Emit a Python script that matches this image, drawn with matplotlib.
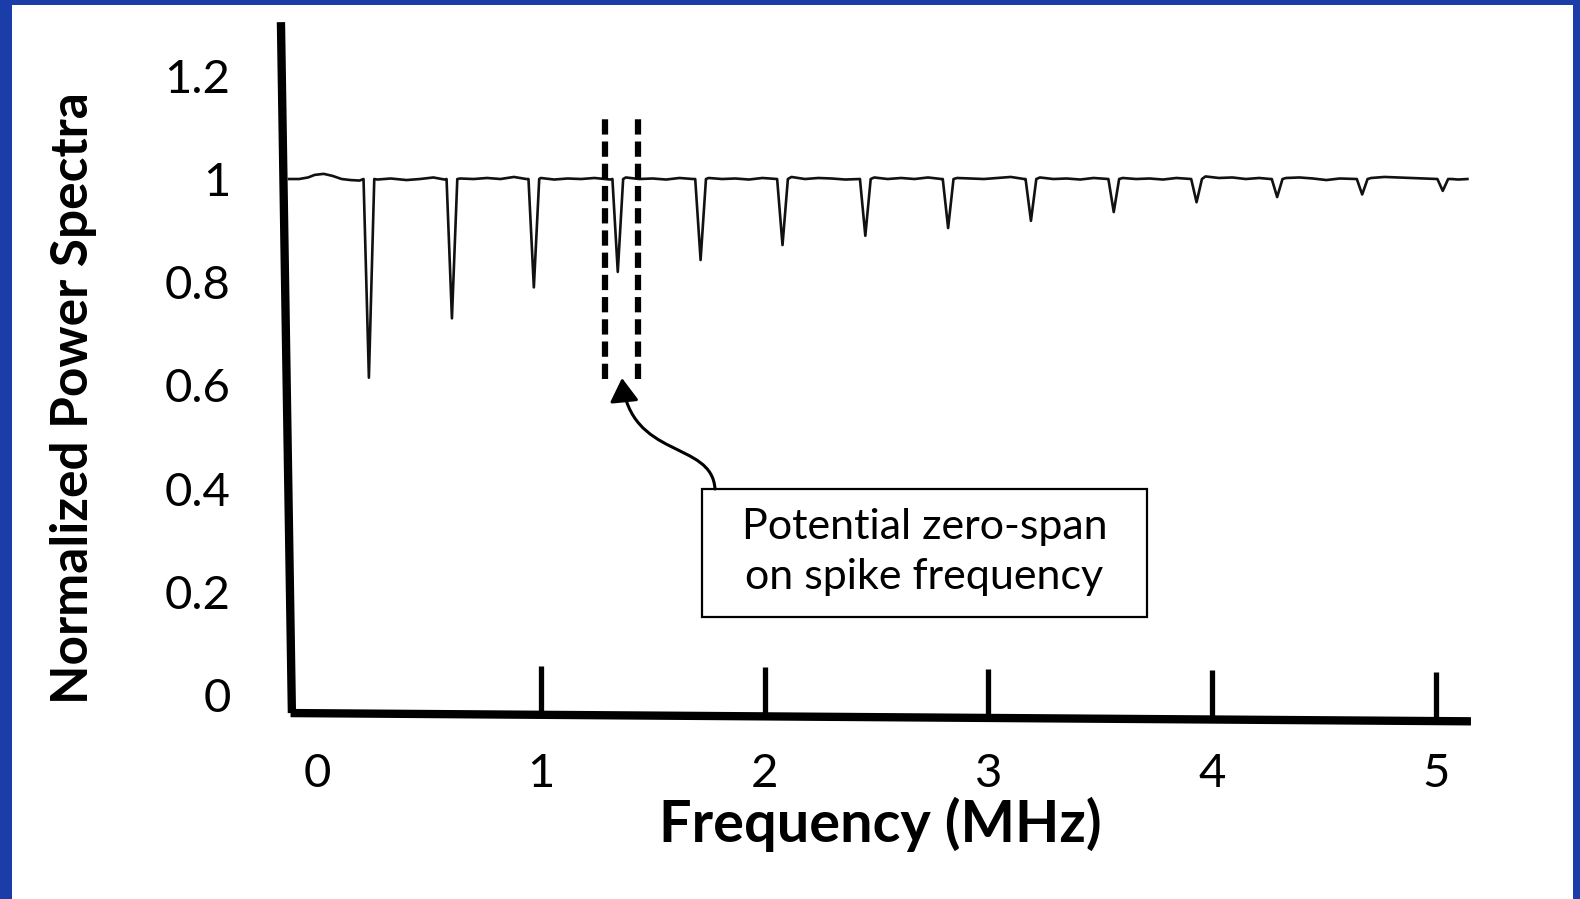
import matplotlib
matplotlib.use("Agg")
import matplotlib.pyplot as plt
from matplotlib.patches import Rectangle, FancyArrowPatch
from matplotlib.path import Path
import numpy as np

plt.rcParams['font.family'] = ['Lato', 'DejaVu Sans']
plt.rcParams['lines.scale_dashes'] = False

# ---- data ----
dip_freq = [0.232, 0.603, 0.969, 1.344, 1.714, 2.080, 2.450, 2.820,
            3.190, 3.560, 3.930, 4.290, 4.670, 5.030]
dip_min = [0.615, 0.73, 0.79, 0.82, 0.843, 0.872, 0.89, 0.905,
           0.919, 0.936, 0.955, 0.965, 0.97, 0.977]

base_freq = [-0.125, -0.08, -0.04, -0.01, 0.03, 0.07, 0.11, 0.15, 0.19,
             0.27, 0.33, 0.40, 0.46, 0.52, 0.57,
             0.64, 0.70, 0.76, 0.82, 0.88, 0.935,
             1.00, 1.06, 1.12, 1.18, 1.24, 1.31,
             1.38, 1.44, 1.50, 1.56, 1.62, 1.68,
             1.75, 1.81, 1.87, 1.93, 1.99, 2.05,
             2.12, 2.18, 2.24, 2.30, 2.36, 2.42,
             2.49, 2.55, 2.61, 2.67, 2.73, 2.79,
             2.86, 2.92, 2.98, 3.04, 3.10, 3.16,
             3.23, 3.29, 3.35, 3.41, 3.47, 3.53,
             3.60, 3.66, 3.72, 3.78, 3.84, 3.90,
             3.97, 4.03, 4.09, 4.15, 4.21, 4.26,
             4.33, 4.39, 4.45, 4.51, 4.57, 4.64,
             4.71, 4.77, 4.83, 4.89, 4.95, 5.00,
             5.07, 5.10, 5.14]
base_val = [1.0, 1.0, 1.003, 1.008, 1.01, 1.006, 1.0, 0.998, 0.997,
            0.999, 1.001, 0.998, 1.0, 1.003, 0.999,
            1.001, 1.0, 1.002, 1.0, 1.004, 1.0,
            1.002, 0.999, 1.001, 1.0, 1.002, 0.999,
            1.003, 1.0, 1.001, 0.999, 1.002, 1.0,
            1.002, 1.0, 1.001, 0.999, 1.002, 1.0,
            1.004, 1.0, 1.002, 1.001, 0.999, 1.0,
            1.003, 1.0, 1.002, 1.0, 1.003, 1.0,
            1.002, 1.001, 1.0, 1.002, 1.004, 1.0,
            1.003, 1.0, 1.001, 0.999, 1.002, 1.0,
            1.002, 1.0, 1.001, 0.999, 1.002, 1.0,
            1.005, 1.002, 1.003, 1.0, 1.002, 1.0,
            1.002, 1.003, 1.001, 0.998, 1.001, 1.0,
            1.002, 1.004, 1.003, 1.002, 1.001, 1.0,
            1.0, 0.999, 1.0]

x_ticks = [0, 1, 2, 3, 4, 5]
x_ticklabels = ['0', '1', '2', '3', '4', '5']
y_ticks = [0, 0.2, 0.4, 0.6, 0.8, 1.0, 1.2]
y_ticklabels = ['0', '0.2', '0.4', '0.6', '0.8', '1', '1.2']
zero_span = [1.287, 1.434]

xlabel = 'Frequency (MHz)'
ylabel = 'Normalized Power Spectra'
note = 'Potential zero-span\non spike frequency'

# ---- build the trace ----
half_w = 0.024
pts = list(zip(base_freq, base_val))
for c, m in zip(dip_freq, dip_min):
    pts += [(c - half_w, 1.0), (c, m), (c + half_w, 1.0)]
pts.sort(key=lambda p: p[0])
fx = [p[0] for p in pts]
fy = [p[1] for p in pts]

W, H = 1580, 899
fig = plt.figure(figsize=(W / 100, H / 100), dpi=100)
fig.patch.set_facecolor('#1b3daa')
fig.patches.append(Rectangle((12 / W, 0), (1573 - 12) / W, 1 - 5 / H,
                             transform=fig.transFigure, facecolor='white',
                             edgecolor='none', zorder=-5))

ax = fig.add_axes([283.4 / W, 1 - 720.8 / H, (1492 - 283.4) / W, (720.8 - 13.9) / H])
ax.set_zorder(2)
ax.set_facecolor('none')
ax.set_xlim(-0.15, 5.25)
ax.set_ylim(-0.05, 1.32)
for s in ax.spines.values():
    s.set_visible(False)

ax.plot(fx, fy, color='#111111', lw=1.9, zorder=3)

# hand-drawn style axes
ax.plot([-0.161, -0.112], [1.304, -0.035], color='black', lw=6, solid_capstyle='butt', clip_on=False, zorder=4)
ax_x0, ax_y0, ax_x1, ax_y1 = -0.118, -0.035, 5.156, -0.051
ax.plot([ax_x0, ax_x1], [ax_y0, ax_y1], color='black', lw=6, solid_capstyle='butt', clip_on=False, zorder=4)
for t in x_ticks[1:]:
    yb = ax_y0 + (ax_y1 - ax_y0) * (t - ax_x0) / (ax_x1 - ax_x0)
    ax.plot([t, t], [yb, yb + 0.095], color='black', lw=3.8, solid_capstyle='butt', zorder=4)

ax.set_xticks(x_ticks)
ax.set_xticklabels(x_ticklabels)
ax.set_yticks(y_ticks)
ax.set_yticklabels(y_ticklabels)
ax.tick_params(axis='both', length=0, labelsize=34, colors='black')
ax.tick_params(axis='y', pad=38)
ax.tick_params(axis='x', pad=23)

# zero-span dashed markers
for xz in zero_span:
    ax.plot([xz, xz], [0.612, 1.125], color='black', lw=4.5, dashes=(11, 5), zorder=5)

# annotation box
bx0, by0, bx1, by1 = 702, 489, 1147, 617
def d(px, py):
    return ((px - 317) / 223.8, 1 - (py - 179) / 516)
p0 = d(bx0, by1)
p1 = d(bx1, by0)
ax.add_patch(Rectangle(p0, p1[0] - p0[0], p1[1] - p0[1], facecolor='white',
                       edgecolor='black', lw=1.6, zorder=6))
cx, cy = d((bx0 + bx1) / 2, (by0 + by1) / 2 - 1)
ax.text(cx, cy, note, ha='center', va='center', fontsize=31, linespacing=1.36, zorder=7)

verts = [d(715, 489), d(712, 440), d(630, 460), d(622, 378)]
path = Path(verts, [Path.MOVETO, Path.CURVE4, Path.CURVE4, Path.CURVE4])
arrow = FancyArrowPatch(path=path, arrowstyle='-|>,head_length=0.9,head_width=0.55',
                        mutation_scale=16, lw=2.2, color='black', zorder=6)
ax.add_patch(arrow)

fig.text(74 / W, 1 - 398 / H, ylabel, rotation=90, ha='center', va='center',
         fontsize=37, fontweight='bold')
fig.text(880 / W, 1 - 824 / H, xlabel, ha='center', va='center',
         fontsize=41.5, fontweight='bold')

fig.savefig('out.png', dpi=100, facecolor=fig.get_facecolor())
